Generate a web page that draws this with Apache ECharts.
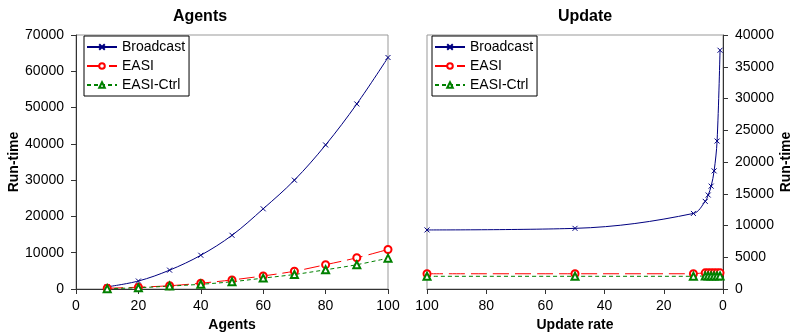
<!DOCTYPE html>
<html><head><meta charset="utf-8">
<script src="https://cdn.jsdelivr.net/npm/echarts@6/dist/echarts.min.js"></script>
<style>html,body{margin:0;padding:0;background:#fff}#c{width:791px;height:332px}</style>
</head><body><div id="c"></div>
<script>
// Left chart: Agents
const agents = [10,20,30,40,50,60,70,80,90,100];
const agentsBroadcast = [600,2200,5200,9300,14800,22100,30000,39700,51000,63800];
const agentsEASI = [200,500,900,1600,2500,3600,4900,6700,8600,10900];
const agentsEASICtrl = [100,350,800,1300,2000,3000,4000,5300,6700,8500];
// Right chart: Update rate
const rates = [100,50,10,6,5,4,3,2,1];
const updBroadcast = [9300,9550,11900,13800,14800,16200,18600,23300,37600];
const updEASI = [2400,2400,2400,2550,2550,2550,2550,2550,2550];
const updEASICtrl = [2000,2000,2000,2050,2050,2050,2050,2050,2050];
const leftYTicks = [0,10000,20000,30000,40000,50000,60000,70000];
const rightYTicks = [0,5000,10000,15000,20000,25000,30000,35000,40000];
const xTicks = [0,20,40,60,80,100];

const FONT = 'Liberation Sans';
const xSym = 'path://M0,0L10,10M10,0L0,10';
const navy = '#000080', red = '#ff0000', green = '#008000';

function pairs(xs, ys){ return xs.map((x,i)=>[x, ys[i]]); }

function seriesSet(xIdx, xs, b, e, c){
  return [
    {name:'Broadcast', type:'line', xAxisIndex:xIdx, yAxisIndex:xIdx, data:pairs(xs,b), smooth:0.35,
     symbol:xSym, symbolSize:5, showSymbol:true,
     lineStyle:{color:navy, width:1}, itemStyle:{color:navy, borderColor:navy, borderWidth:1}},
    {name:'EASI', type:'line', xAxisIndex:xIdx, yAxisIndex:xIdx, data:pairs(xs,e), smooth:0.35,
     symbol:'emptyCircle', symbolSize:7, showSymbol:true,
     lineStyle:{color:red, width:1, type:[16,6]}, itemStyle:{color:red, borderWidth:1}},
    {name:'EASI-Ctrl', type:'line', xAxisIndex:xIdx, yAxisIndex:xIdx, data:pairs(xs,c), smooth:0.35,
     symbol:'emptyTriangle', symbolSize:7, showSymbol:true,
     lineStyle:{color:green, width:1, type:[4,3]}, itemStyle:{color:green, borderWidth:1}}
  ];
}

const axisLabel = {fontFamily:FONT, fontSize:14, color:'#000', formatter: v => String(v)};
const nameStyle = {fontFamily:FONT, fontSize:14, fontWeight:'bold', color:'#000'};
const axisLine = {show:true, onZero:false, lineStyle:{color:'#333', width:1}};
const tick = {show:true, length:5, lineStyle:{color:'#333'}};

const legendBase = {orient:'vertical', itemWidth:30, itemHeight:7, itemGap:3, padding:[3,4,3,2],
  borderColor:'#000', borderWidth:1, backgroundColor:'#fff',
  textStyle:{fontFamily:FONT, fontSize:14, color:'#000', lineHeight:16},
  data:['Broadcast','EASI','EASI-Ctrl']};

const chart = echarts.init(document.getElementById('c'), null, {renderer:'canvas'});
chart.setOption({
  animation:false,
  backgroundColor:'#fff',
  title:[
    {text:'Agents', left:195, top:4, textAlign:'center', textStyle:{fontFamily:FONT, fontSize:16, fontWeight:'bold', color:'#000'}},
    {text:'Update', left:580, top:4, textAlign:'center', textStyle:{fontFamily:FONT, fontSize:16, fontWeight:'bold', color:'#000'}}
  ],
  grid:[
    {left:76, right:403, top:35, bottom:43, show:true, borderColor:'#999', borderWidth:1, outerBoundsMode:'none', containLabel:false},
    {left:427, right:68, top:35, bottom:43, show:true, borderColor:'#999', borderWidth:1, outerBoundsMode:'none', containLabel:false}
  ],
  xAxis:[
    {type:'value', gridIndex:0, min:xTicks[0], max:xTicks[xTicks.length-1], interval:20,
     name:'Agents', nameLocation:'middle', nameGap:27, nameTextStyle:nameStyle,
     axisLine:axisLine, axisTick:tick, splitLine:{show:false},
     axisLabel:Object.assign({margin:10}, axisLabel)},
    {type:'value', gridIndex:1, min:xTicks[0], max:xTicks[xTicks.length-1], interval:20, inverse:true,
     name:'Update rate', nameLocation:'middle', nameGap:27, nameTextStyle:nameStyle,
     axisLine:axisLine, axisTick:tick, splitLine:{show:false},
     axisLabel:Object.assign({margin:10}, axisLabel)}
  ],
  yAxis:[
    {type:'value', gridIndex:0, min:leftYTicks[0], max:leftYTicks[leftYTicks.length-1], interval:10000,
     name:'Run-time', nameLocation:'middle', nameGap:54, nameRotate:90, nameTextStyle:nameStyle,
     axisLine:axisLine, axisTick:tick, splitLine:{show:false},
     axisLabel:Object.assign({margin:12}, axisLabel)},
    {type:'value', gridIndex:1, position:'right', min:rightYTicks[0], max:rightYTicks[rightYTicks.length-1], interval:5000,
     name:'Run-time', nameLocation:'middle', nameGap:56, nameRotate:90, nameTextStyle:nameStyle,
     axisLine:axisLine, axisTick:tick, splitLine:{show:false},
     axisLabel:Object.assign({margin:12}, axisLabel)}
  ],
  legend:[
    Object.assign({left:84, top:36}, legendBase),
    Object.assign({left:432, top:36}, legendBase)
  ],
  series:[].concat(
    seriesSet(0, agents, agentsBroadcast, agentsEASI, agentsEASICtrl),
    seriesSet(1, rates, updBroadcast, updEASI, updEASICtrl)
  )
});
</script></body></html>
